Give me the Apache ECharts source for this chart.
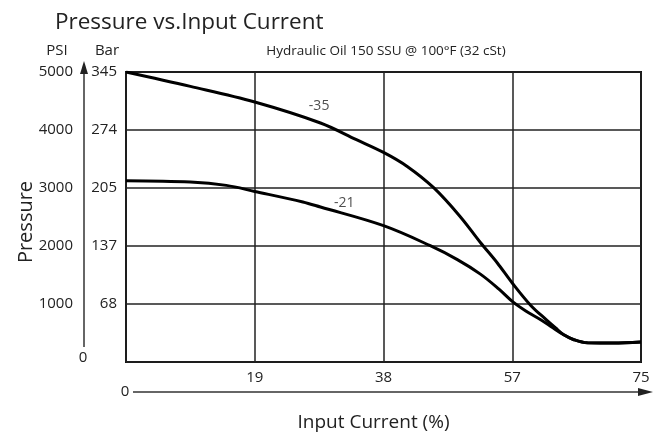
<!DOCTYPE html>
<html>
<head>
<meta charset="utf-8">
<script src="https://cdn.jsdelivr.net/npm/echarts@6/dist/echarts.min.js"></script>
<style>
html,body{margin:0;padding:0;background:#fff;}
#c{width:658px;height:434px;}
</style>
</head>
<body>
<div id="c"></div>
<script>
// Data (x = input current %, y = pressure PSI)
var curve35 = [[0,5000],[9.5,4752],[19,4483],[28.7,4121],[34,3833],[38,3614],[41.5,3372],[45.4,3005],[49.3,2510],[52.3,2060],[54.8,1707],[57,1362],[59.7,980],[62,730],[63.4,586],[64.6,470],[66.1,384],[68.1,330],[71.9,328],[76,345]];
var curve21 = [[0,3126],[9.5,3103],[14.8,3045],[19,2941],[26.1,2759],[28.7,2672],[38,2350],[44.9,2005],[48.9,1765],[52.3,1515],[55,1260],[57,1045],[59,880],[61.2,729],[63,590],[64.6,470],[66.1,384],[68.1,330],[71.9,328],[76,345]];
var curveLabels = [[28.5,4407,'-35'],[32.2,2747,'-21']];
var xTicks = {19:'19',38:'38',57:'57',76:'75'};
var psiTicks = {1000:'1000',2000:'2000',3000:'3000',4000:'4000',5000:'5000'};
var barTicks = {1000:'68',2000:'137',3000:'205',4000:'274',5000:'345'};

var FONT = 'Open Sans';
var chart = echarts.init(document.getElementById('c'), null, {renderer:'canvas'});
chart.setOption({
  animation:false,
  textStyle:{fontFamily:FONT,color:'#222'},
  title:[
    {text:'Pressure vs.Input Current',left:50,top:6,textStyle:{fontFamily:FONT,fontSize:22.5,fontWeight:'normal',color:'#222'}},
    {text:'Hydraulic Oil 150 SSU @ 100°F (32 cSt)',left:381,top:39,textAlign:'center',textStyle:{fontFamily:FONT,fontSize:13.5,fontWeight:'normal',color:'#222'}},
    {text:'PSI',left:52,top:38,textAlign:'center',textStyle:{fontFamily:FONT,fontSize:15,fontWeight:'normal',color:'#222'}},
    {text:'Bar',left:102,top:38,textAlign:'center',textStyle:{fontFamily:FONT,fontSize:15,fontWeight:'normal',color:'#222'}}
  ],
  grid:{left:126,right:17,top:72,bottom:72,outerBoundsMode:'none',containLabel:false,show:true,borderColor:'#111',borderWidth:2,backgroundColor:'transparent'},
  xAxis:{type:'value',min:0,max:76,interval:19,
    axisLine:{show:false},axisTick:{show:false},
    splitLine:{show:true,lineStyle:{color:'#222',width:1.5}},
    axisLabel:{margin:8,fontSize:15,color:'#222',fontFamily:FONT,formatter:function(v){return xTicks[v]||'';}},
    name:'Input Current (%)',nameLocation:'middle',nameGap:51,nameTextStyle:{fontSize:19,color:'#222',fontFamily:FONT,padding:[0,20,0,0]}
  },
  yAxis:[
    {type:'value',min:0,max:5000,interval:1000,position:'left',
      axisLine:{show:false},axisTick:{show:false},
      splitLine:{show:true,lineStyle:{color:'#222',width:1.5}},
      axisLabel:{margin:9,fontSize:15,color:'#222',fontFamily:FONT,formatter:function(v){return barTicks[v]||'';}}
    },
    {type:'value',min:0,max:5000,interval:1000,position:'left',offset:0,
      axisLine:{show:false},axisTick:{show:false},splitLine:{show:false},
      axisLabel:{margin:53,fontSize:15,color:'#222',fontFamily:FONT,formatter:function(v){return psiTicks[v]||'';}},
      name:'Pressure',nameLocation:'middle',nameGap:90,nameMoveOverlap:false,nameRotate:90,nameTextStyle:{fontSize:20,color:'#222',fontFamily:FONT,padding:[0,10,0,0]}
    }
  ],
  graphic:[
    {type:'line',shape:{x1:84,y1:347,x2:84,y2:70},style:{stroke:'#333',lineWidth:1.5}},
    {type:'polygon',shape:{points:[[84,61],[80,74],[88,74]]},style:{fill:'#222'}},
    {type:'line',shape:{x1:133,y1:392,x2:640,y2:392},style:{stroke:'#333',lineWidth:1.5}},
    {type:'polygon',shape:{points:[[653,392],[638,388],[638,396]]},style:{fill:'#222'}},
    {type:'text',x:83,y:358,style:{text:'0',fontFamily:FONT,fontSize:15,fill:'#222',align:'center',verticalAlign:'middle'}},
    {type:'text',x:125,y:392,style:{text:'0',fontFamily:FONT,fontSize:15,fill:'#222',align:'center',verticalAlign:'middle'}}
  ],
  series:[
    {type:'line',data:curve35,smooth:0.35,showSymbol:false,lineStyle:{color:'#000',width:3},z:5},
    {type:'line',data:curve21,smooth:0.35,showSymbol:false,lineStyle:{color:'#000',width:3},z:5},
    {type:'scatter',data:curveLabels,symbolSize:0,z:6,
      label:{show:true,position:'inside',fontSize:14,color:'#222',fontFamily:FONT,formatter:function(p){return p.data[2];}}}
  ]
});
</script>
</body>
</html>
